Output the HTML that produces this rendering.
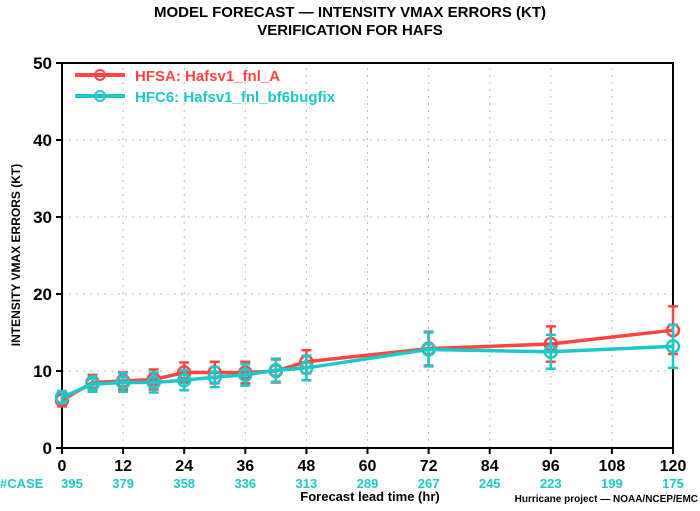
<!DOCTYPE html>
<html><head><meta charset="utf-8"><style>
body{margin:0;background:#fff;}
svg text{font-family:"Liberation Sans",sans-serif;font-weight:bold;}
</style></head><body>
<svg width="700" height="506">
<text x="350" y="17" text-anchor="middle" font-size="15">MODEL FORECAST — INTENSITY VMAX ERRORS (KT)</text>
<text x="350" y="35" text-anchor="middle" font-size="15">VERIFICATION FOR HAFS</text>
<g id="grid"></g>
<g id="axes"></g>
<g id="series"></g>
<text x="20" y="255" transform="rotate(-90 20 255)" text-anchor="middle" font-size="12">INTENSITY VMAX ERRORS (KT)</text>
<text x="370" y="501" text-anchor="middle" font-size="13">Forecast lead time (hr)</text>
<text x="698" y="502" text-anchor="end" font-size="10" font-weight="normal">Hurricane project — NOAA/NCEP/EMC</text>
<text x="0" y="488" font-size="13" fill="#1cc8c8">#CASE</text>
<g>
<line x1="75" y1="75" x2="125" y2="75" stroke="#f44" stroke-width="4"/><circle cx="100" cy="75" r="5" fill="none" stroke="#f44" stroke-width="2"/>
<text x="135" y="81" font-size="15" fill="#f44">HFSA: Hafsv1_fnl_A</text>
<line x1="75" y1="96" x2="125" y2="96" stroke="#1cc8c8" stroke-width="4"/><circle cx="100" cy="96" r="5" fill="none" stroke="#1cc8c8" stroke-width="2"/>
<text x="135" y="102" font-size="15" fill="#1cc8c8">HFC6: Hafsv1_fnl_bf6bugfix</text>
</g>
</svg>
<script>
const hours=[0,6,12,18,24,30,36,42,48,72,96,120];
const hfsaVals=[6.2,8.5,8.7,8.9,9.8,9.8,9.8,10.0,11.2,12.9,13.5,15.3];
const hfsaErr=[0.8,1.0,1.1,1.3,1.3,1.4,1.4,1.5,1.5,2.2,2.3,3.1];
const hfc6Vals=[6.6,8.3,8.5,8.5,8.8,9.2,9.5,10.1,10.4,12.8,12.5,13.2];
const hfc6Err=[0.8,1.0,1.2,1.3,1.3,1.3,1.4,1.5,1.6,2.2,2.2,2.8];
const xTicks=[0,12,24,36,48,60,72,84,96,108,120];
const yTicks=[0,10,20,30,40,50];
const caseCounts=[395,379,358,336,313,289,267,245,223,199,175];
const NS="http://www.w3.org/2000/svg";
const X=h=>62+h*(611/120), Y=v=>448-v*7.7;
function mk(t,a,p){const e=document.createElementNS(NS,t);for(const k in a)e.setAttribute(k,a[k]);p.appendChild(e);return e;}
const grid=document.getElementById('grid'),axes=document.getElementById('axes'),ser=document.getElementById('series');
xTicks.forEach((t,i)=>{
 if(t>0&&t<120){const g=mk('line',{x1:X(t),x2:X(t),y1:Y(0),y2:Y(50),stroke:'#bbb','stroke-dasharray':'2,5'},grid);
 
 }
 const tk=mk('line',{x1:X(t),x2:X(t),y1:Y(0),y2:Y(0)+6,stroke:'#000','stroke-width':2},axes);
 
 
 const l=mk('text',{x:X(t),y:Y(0)+23,'text-anchor':'middle','font-size':16},axes);l.textContent=t;
 
 
 const c=mk('text',{x:X(t)+(t==0?10:0),y:488,'text-anchor':'middle','font-size':13,fill:'#1cc8c8'},axes);c.textContent=caseCounts[i];
 
 
});
yTicks.forEach(v=>{
 if(v>0&&v<50){const g=mk('line',{x1:X(0),x2:X(120),y1:Y(v),y2:Y(v),stroke:'#bbb','stroke-dasharray':'2,5'},grid);
 
 }
 const tk=mk('line',{x1:X(0)-6,x2:X(0),y1:Y(v),y2:Y(v),stroke:'#000','stroke-width':2},axes);
 
 
 const l=mk('text',{x:X(0)-10,y:Y(v)+6,'text-anchor':'end','font-size':17},axes);l.textContent=v;
 
 
});
const fr=mk('rect',{x:X(0),y:Y(50),width:X(120)-X(0),height:Y(0)-Y(50),fill:'none',stroke:'#000','stroke-width':2},axes);


function series(vals,err,col,name){
 const p=mk('polyline',{points:hours.map((h,i)=>X(h)+','+Y(vals[i])).join(' '),fill:'none',stroke:col,'stroke-width':3.5},ser);
 
 
 hours.forEach((h,i)=>{
  const x=X(h),y1=Y(vals[i]-err[i]),y2=Y(vals[i]+err[i]);
  const e=mk('path',{d:`M${x},${y1}V${y2}M${x-5},${y1}H${x+5}M${x-5},${y2}H${x+5}`,stroke:col,'stroke-width':2.5,fill:'none'},ser);
  
  
  const c=mk('circle',{cx:x,cy:Y(vals[i]),r:6,fill:'none',stroke:col,'stroke-width':2.5},ser);
  
  
 });
}
series(hfsaVals,hfsaErr,'#f44','hfsa');
series(hfc6Vals,hfc6Err,'#1cc8c8','hfc6');
</script>
</body></html>
